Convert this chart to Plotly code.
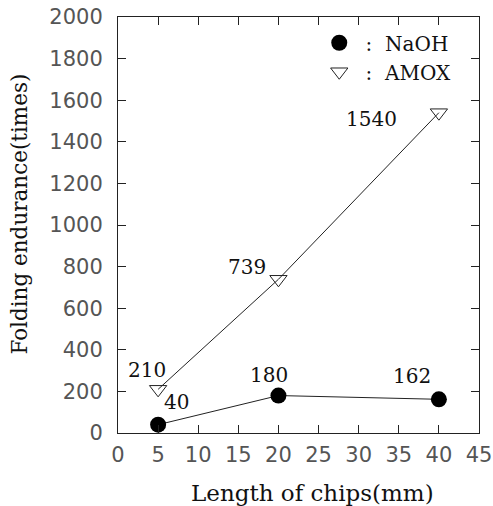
import plotly.graph_objects as go

chip_length = [5, 20, 40]
naoh = [40, 180, 162]
amox = [210, 739, 1540]
naoh_labels = ["40", "180", "162"]
amox_labels = ["210", "739", "1540"]
x_ticks = [0, 5, 10, 15, 20, 25, 30, 35, 40, 45]
y_ticks = [0, 200, 400, 600, 800, 1000, 1200, 1400, 1600, 1800, 2000]
x_title = "Length of chips(mm)"
y_title = "Folding endurance(times)"

SERIF = "DejaVu Serif"
SANS = "DejaVu Sans"

fig = go.Figure()
# lines
fig.add_trace(go.Scatter(x=chip_length, y=amox, mode="lines",
                         line=dict(color="#222", width=1), showlegend=False, hoverinfo="skip"))
fig.add_trace(go.Scatter(x=chip_length, y=naoh, mode="lines",
                         line=dict(color="#222", width=1), showlegend=False, hoverinfo="skip"))
# markers (legend)
fig.add_trace(go.Scatter(x=chip_length, y=naoh, mode="markers", name=" :  NaOH",
                         marker=dict(symbol="circle", size=16, color="black")))
fig.add_trace(go.Scatter(x=chip_length, y=amox, mode="markers", name=" :  AMOX",
                         marker=dict(symbol="triangle-down-open", size=15, color="#222",
                                     line=dict(width=1))))

# value labels (pixel offsets from the data point: right, down)
amox_off = [(-11, -19), (-31, -12), (-67, 6)]
naoh_off = [(18, -23), (-9, -21), (-27, -23)]
for xv, yv, t, (dx, dy) in zip(chip_length, amox, amox_labels, amox_off):
    fig.add_annotation(x=xv, y=yv, text=t, showarrow=False, xshift=dx, yshift=-dy,
                       font=dict(family=SERIF, size=20, color="#111"))
for xv, yv, t, (dx, dy) in zip(chip_length, naoh, naoh_labels, naoh_off):
    fig.add_annotation(x=xv, y=yv, text=t, showarrow=False, xshift=dx, yshift=-dy,
                       font=dict(family=SERIF, size=20, color="#111"))

# axis titles
fig.add_annotation(xref="paper", yref="paper", x=0.54, y=0, yshift=-60, yanchor="middle",
                   text=x_title, showarrow=False,
                   font=dict(family=SERIF, size=23, color="#111"))
fig.add_annotation(xref="paper", yref="paper", x=0, xshift=-98, y=0.525, xanchor="center",
                   textangle=-90, text=y_title, showarrow=False,
                   font=dict(family=SERIF, size=21.5, color="#111"))

axis_common = dict(showline=True, linecolor="#222", linewidth=1, mirror="allticks",
                   ticks="inside", ticklen=8, tickcolor="#222", showgrid=False,
                   zeroline=False, automargin=False,
                   tickfont=dict(family=SANS, size=21, color="#555"))

fig.update_xaxes(range=[0, 45], tickvals=x_ticks, ticktext=[str(v) for v in x_ticks],
                 ticklabelstandoff=3, **axis_common)
fig.update_yaxes(range=[0, 2000], tickvals=y_ticks, ticktext=[str(v) for v in y_ticks],
                 ticklabelstandoff=10, **axis_common)

fig.update_layout(
    width=493, height=506,
    margin=dict(l=118, r=14, t=17, b=73),
    paper_bgcolor="white", plot_bgcolor="white",
    legend=dict(x=0.937, y=0.985, xanchor="right", yanchor="top",
                font=dict(family=SERIF, size=20, color="#111"),
                bgcolor="rgba(0,0,0,0)", itemwidth=30, tracegroupgap=0),
)

fig.write_html("out.html")
